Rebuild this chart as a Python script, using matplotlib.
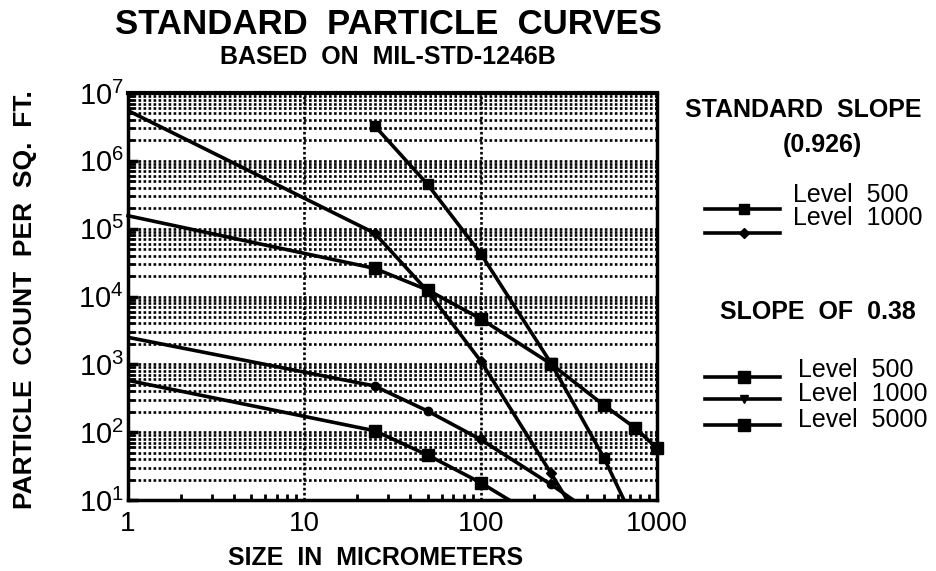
import math
import matplotlib
matplotlib.use("Agg")
import matplotlib.pyplot as plt
from matplotlib.lines import Line2D
from matplotlib.ticker import FixedLocator, NullFormatter, FuncFormatter

plt.rcParams['font.family'] = ['Liberation Sans', 'DejaVu Sans']
plt.rcParams['mathtext.fontset'] = 'custom'
plt.rcParams['mathtext.rm'] = 'Liberation Sans'

# values (size in micrometers, count per sq. ft.)
std500_x = [1, 25, 50, 100, 250, 310]
std500_y = [5.5e6, 8.6e4, 1.2e4, 1.12e3, 25, 10]
std1000_x = [25, 50, 100, 250, 500, 650]
std1000_y = [3.3e6, 4.5e5, 4.3e4, 1.05e3, 42, 10]
s38_500_x = [1, 25, 50, 100, 145]
s38_500_y = [580, 105, 46, 18, 10]
s38_1000_x = [1, 25, 50, 100, 250, 335]
s38_1000_y = [2500, 480, 205, 78, 17, 10]
s38_5000_x = [1, 25, 50, 100, 250, 500, 750, 1000]
s38_5000_y = [1.55e5, 2.6e4, 1.25e4, 4.7e3, 1.02e3, 250, 116, 58]

x_ticks = [1, 10, 100, 1000]
x_tick_labels = ['1', '10', '100', '1000']
y_ticks = [1e1, 1e2, 1e3, 1e4, 1e5, 1e6, 1e7]

FIG_W, FIG_H, DPI = 936, 571, 100

fig = plt.figure(figsize=(FIG_W / DPI, FIG_H / DPI), dpi=DPI, facecolor='white')
ax = fig.add_axes([128 / FIG_W, 1 - 500 / FIG_H, (657 - 128) / FIG_W, (500 - 93) / FIG_H])

ax.set_xscale('log')
ax.set_yscale('log')
ax.set_xlim(1, 1000)
ax.set_ylim(10, 1e7)

y_minor = [m * d for d in y_ticks[:-1] for m in range(2, 10)]
x_minor = [m * d for d in x_ticks[:-1] for m in range(2, 10)]
ax.yaxis.set_major_locator(FixedLocator(y_ticks))
ax.yaxis.set_minor_locator(FixedLocator(y_minor))
ax.xaxis.set_major_locator(FixedLocator(x_ticks))
ax.xaxis.set_minor_locator(FixedLocator(x_minor))

# dense horizontal grid on every decade subdivision, vertical only at decades
ax.grid(which='both', axis='y', color='black', linestyle=(0, (1, 0.9)), linewidth=1.9)
ax.grid(which='major', axis='x', color='black', linestyle=(0, (1, 0.9)), linewidth=1.9)

ax.xaxis.set_major_formatter(FuncFormatter(lambda v, p: x_tick_labels[x_ticks.index(v)] if v in x_ticks else ''))
ax.xaxis.set_minor_formatter(NullFormatter())
ax.yaxis.set_major_formatter(FuncFormatter(lambda v, p: r'$\mathrm{10}^{%d}$' % round(math.log10(v))))
ax.yaxis.set_minor_formatter(NullFormatter())
ax.tick_params(axis='both', which='both', direction='in', color='black')
ax.tick_params(axis='x', which='major', length=0, labelsize=20, pad=8)
ax.tick_params(axis='x', which='minor', length=4, width=2)
ax.tick_params(axis='y', which='major', length=7, width=2.5, labelsize=21, pad=3)
ax.tick_params(axis='y', which='minor', length=4, width=2)

for side, lw in [('left', 2.5), ('right', 2.5), ('top', 3), ('bottom', 2.5)]:
    ax.spines[side].set_linewidth(lw)
    ax.spines[side].set_color('black')

lw = 2.6
ax.plot(std500_x, std500_y, color='black', lw=lw, marker='D', ms=5, markevery=[1, 2, 3, 4], zorder=3)
ax.plot(std1000_x, std1000_y, color='black', lw=lw, marker='s', ms=7, markevery=[0, 1, 2, 3, 4], zorder=3)
ax.plot(s38_500_x, s38_500_y, color='black', lw=lw, marker='s', ms=9, markevery=[1, 2, 3], zorder=3)
ax.plot(s38_1000_x, s38_1000_y, color='black', lw=lw, marker='o', ms=6, markevery=[1, 2, 3, 4], zorder=3)
ax.plot(s38_5000_x, s38_5000_y, color='black', lw=lw, marker='s', ms=8, markevery=[1, 2, 3, 4, 5, 6, 7],
        zorder=3, clip_on=False)

# titles and axis labels
fig.text(388 / FIG_W, 1 - 25 / FIG_H, 'STANDARD  PARTICLE  CURVES', ha='center', va='center',
         fontsize=25, fontweight='bold')
fig.text(388 / FIG_W, 1 - 57 / FIG_H, 'BASED  ON  MIL-STD-1246B', ha='center', va='center',
         fontsize=18, fontweight='bold')
fig.text(376 / FIG_W, 1 - 558 / FIG_H, 'SIZE  IN  MICROMETERS', ha='center', va='center',
         fontsize=18, fontweight='bold')
fig.text(25 / FIG_W, 1 - 300 / FIG_H, 'PARTICLE  COUNT  PER  SQ.  FT.', ha='center', va='center',
         rotation=90, fontsize=19, fontweight='bold')

# hand-drawn legend on the right
def px(x, y):
    return x / FIG_W, 1 - y / FIG_H

fig.text(*px(803, 110), 'STANDARD  SLOPE', ha='center', va='center', fontsize=18, fontweight='bold')
fig.text(*px(822, 145), '(0.926)', ha='center', va='center', fontsize=18, fontweight='bold')
fig.text(*px(793, 195), 'Level  500', ha='left', va='center', fontsize=18)
fig.text(*px(793, 218), 'Level  1000', ha='left', va='center', fontsize=18)
fig.text(*px(818, 312), 'SLOPE  OF  0.38', ha='center', va='center', fontsize=18, fontweight='bold')
fig.text(*px(798, 370), 'Level  500', ha='left', va='center', fontsize=18)
fig.text(*px(798, 394), 'Level  1000', ha='left', va='center', fontsize=18)
fig.text(*px(798, 420), 'Level  5000', ha='left', va='center', fontsize=18)

legend_marks = [(209, 's', 7), (233, 'D', 5), (377, 's', 8), (399, 'v', 6), (425, 's', 8)]
for y, m, s in legend_marks:
    x0, yy = px(705, y)
    x1, _ = px(780, y)
    xm, _ = px(744, y)
    fig.add_artist(Line2D([x0, x1], [yy, yy], color='black', lw=2.6, transform=fig.transFigure))
    fig.add_artist(Line2D([xm], [yy], color='black', marker=m, ms=s, transform=fig.transFigure))

fig.savefig('out.png', dpi=DPI, facecolor='white')
